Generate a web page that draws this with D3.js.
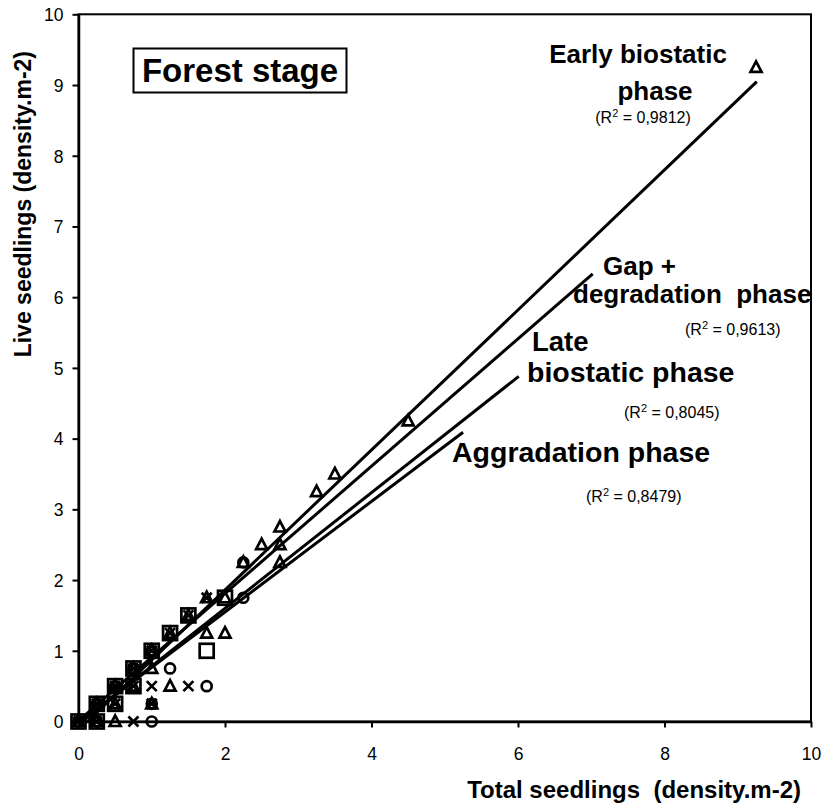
<!DOCTYPE html>
<html>
<head>
<meta charset="utf-8">
<script src="https://cdn.jsdelivr.net/npm/d3@7/dist/d3.min.js"></script>
<style>
  html, body { margin: 0; padding: 0; background: #fff; }
  svg { display: block; }
  text { font-family: "Liberation Sans", Arial, Helvetica, sans-serif; fill: #000; }
</style>
</head>
<body>
<svg id="chart" width="825" height="810"></svg>
<script>
// ---------------- DATA ----------------
const xTicks = [0, 2, 4, 6, 8, 10];
const yTicks = [0, 1, 2, 3, 4, 5, 6, 7, 8, 9, 10];

// Early biostatic phase (triangles)
const earlyPoints = [
  [0, 0], [0.25, 0], [0.25, 0.25], [0.5, 0], [0.5, 0.25], [0.5, 0.5], [0.75, 0.5],
  [0.75, 0.75], [1, 0.25], [1, 0.75], [1, 1], [1.25, 0.5], [1.25, 1.25], [1.5, 1.5],
  [1.75, 1.25], [1.75, 1.75], [2, 1.25], [2, 1.75], [2.25, 2.25], [2.5, 2.5],
  [2.75, 2.25], [2.75, 2.5], [2.75, 2.75], [3.25, 3.25], [3.5, 3.5], [4.5, 4.25], [9.25, 9.25]
];
// Gap + degradation phase (squares)
const gapPoints = [
  [0, 0], [0.25, 0], [0.25, 0.25], [0.5, 0.25], [0.5, 0.5], [0.75, 0.5], [0.75, 0.75],
  [1, 1], [1.25, 1.25], [1.5, 1.5], [1.75, 1], [2, 1.75]
];
// Late biostatic phase (crosses)
const latePoints = [
  [0, 0], [0.25, 0], [0.25, 0.25], [0.5, 0.25], [0.5, 0.5], [0.75, 0], [0.75, 0.5], [0.75, 0.75], [1, 0.25],
  [1, 0.5], [1, 1], [1.25, 1.25], [1.5, 0.5], [1.5, 1.5], [1.75, 1.75]
];
// Aggradation phase (circles)
const aggrPoints = [
  [0, 0], [0.25, 0], [0.25, 0.25], [0.5, 0.5], [0.75, 0.75], [1, 0], [1, 0.25], [1, 1], [1.25, 0.75],
  [1.75, 0.5], [2.25, 1.75], [2.25, 2.25]
];

// Linear trend lines: [slope, intercept, x end]
const earlyTrend = [0.99, -0.12, 9.26];
const gapTrend   = [0.90, 0.01, 7.02];
const lateTrend  = [0.818, -0.036, 6.01];
const aggrTrend  = [0.782, -0.016, 5.25];

const r2Labels = ["0,9812", "0,9613", "0,8045", "0,8479"];
const chartTitle = "Forest stage";
const xTitle = "Total seedlings  (density.m-2)";
const yTitle = "Live seedlings (density.m-2)";

// ---------------- DRAW ----------------
const svg = d3.select("#chart");
const L = 78.5, R = 811, T = 14.3, B = 721.5;
const x = d3.scaleLinear().domain([0, 10]).range([L, R]);
const y = d3.scaleLinear().domain([0, 10]).range([B, T]);

// frame
svg.append("rect").attr("x", L).attr("y", T).attr("width", R - L).attr("height", B - T)
  .attr("fill", "none").attr("stroke", "#000").attr("stroke-width", 2);

// axes
const xAxis = d3.axisBottom(x).tickValues(xTicks).tickSize(6).tickSizeOuter(0).tickFormat(d3.format("d"));
const yAxis = d3.axisLeft(y).tickValues(yTicks).tickSize(6).tickSizeOuter(0).tickFormat(d3.format("d"));

const gx = svg.append("g").attr("transform", `translate(0,${B})`).call(xAxis);
const gy = svg.append("g").attr("transform", `translate(${L},0)`).call(yAxis);
[gx, gy].forEach(g => {
  g.select(".domain").attr("stroke", "#000").attr("stroke-width", 2.5);
  g.selectAll(".tick line").attr("stroke", "#000").attr("stroke-width", 2);
  g.selectAll(".tick text").style("font-family", '"Liberation Sans", Arial, sans-serif')
    .style("font-size", "17.5px").attr("fill", "#000");
});
gx.selectAll(".tick text").attr("y", 32).attr("dy", "0.35em");
gy.selectAll(".tick text").attr("x", -15).attr("dy", "0.36em");

// markers
const mk = svg.append("g").attr("fill", "none").attr("stroke", "#000").attr("stroke-width", 2.7);
mk.selectAll("rect.sq").data(gapPoints).join("rect").attr("class", "sq")
  .attr("x", d => x(d[0]) - 7).attr("y", d => y(d[1]) - 7)
  .attr("width", 14).attr("height", 14);
mk.selectAll("path.tri").data(earlyPoints).join("path").attr("class", "tri")
  .attr("d", d => {
    const cx = x(d[0]), cy = y(d[1]);
    return `M${cx},${cy - 6}L${cx + 5.5},${cy + 4.5}L${cx - 5.5},${cy + 4.5}Z`;
  });
mk.selectAll("path.cr").data(latePoints).join("path").attr("class", "cr")
  .attr("d", d => {
    const cx = x(d[0]), cy = y(d[1]), s = 5;
    return `M${cx - s},${cy - s}L${cx + s},${cy + s}M${cx - s},${cy + s}L${cx + s},${cy - s}`;
  });
mk.selectAll("circle.ci").data(aggrPoints).join("circle").attr("class", "ci")
  .attr("cx", d => x(d[0])).attr("cy", d => y(d[1])).attr("r", 5);

// trend lines
const trends = [earlyTrend, gapTrend, lateTrend, aggrTrend];
svg.append("g").selectAll("line").data(trends).join("line")
  .attr("x1", d => x(Math.max(0, -d[1] / d[0])))
  .attr("y1", d => y(Math.max(0, d[1])))
  .attr("x2", d => x(d[2]))
  .attr("y2", d => y(d[0] * d[2] + d[1]))
  .attr("stroke", "#000").attr("stroke-width", 3);

// title box
const tb = svg.append("g");
tb.append("rect").attr("x", 133.5).attr("y", 48.5).attr("width", 213).attr("height", 44)
  .attr("fill", "#fff").attr("stroke", "#000").attr("stroke-width", 2);
tb.append("text").attr("x", 240).attr("y", 82).attr("text-anchor", "middle")
  .style("font-size", "33px").style("font-weight", "bold").text(chartTitle);

// phase labels
function bold(txt, px, py, size, anchor) {
  svg.append("text").attr("x", px).attr("y", py).attr("text-anchor", anchor || "start")
    .style("font-size", size + "px").style("font-weight", "bold")
    .style("white-space", "pre").text(txt);
}
function r2(val, px, py, anchor) {
  const t = svg.append("text").attr("x", px).attr("y", py).attr("text-anchor", anchor || "start")
    .style("font-size", "16px");
  t.append("tspan").text("(R");
  t.append("tspan").attr("dy", -6).style("font-size", "11px").text("2");
  t.append("tspan").attr("dy", 6).text(" = " + val + ")");
}
bold("Early biostatic", 638, 63, 26, "middle");
bold("phase", 655, 100, 26, "middle");
r2(r2Labels[0], 643, 123, "middle");

bold("Gap +", 603, 275, 26);
bold("degradation  phase", 573, 303, 26);
r2(r2Labels[1], 685, 335);

bold("Late", 532, 351, 27.5);
bold("biostatic phase", 527, 382, 28.5);
r2(r2Labels[2], 624, 418);

bold("Aggradation phase", 452, 462, 28.5);
r2(r2Labels[3], 586, 502);

// axis titles
svg.append("text").attr("x", 801).attr("y", 798).attr("text-anchor", "end")
  .style("font-size", "24px").style("font-weight", "bold").style("white-space", "pre").text(xTitle);
svg.append("text").attr("transform", "translate(31,51) rotate(-90)").attr("text-anchor", "end")
  .style("font-size", "23px").style("font-weight", "bold").text(yTitle);
</script>
</body>
</html>
